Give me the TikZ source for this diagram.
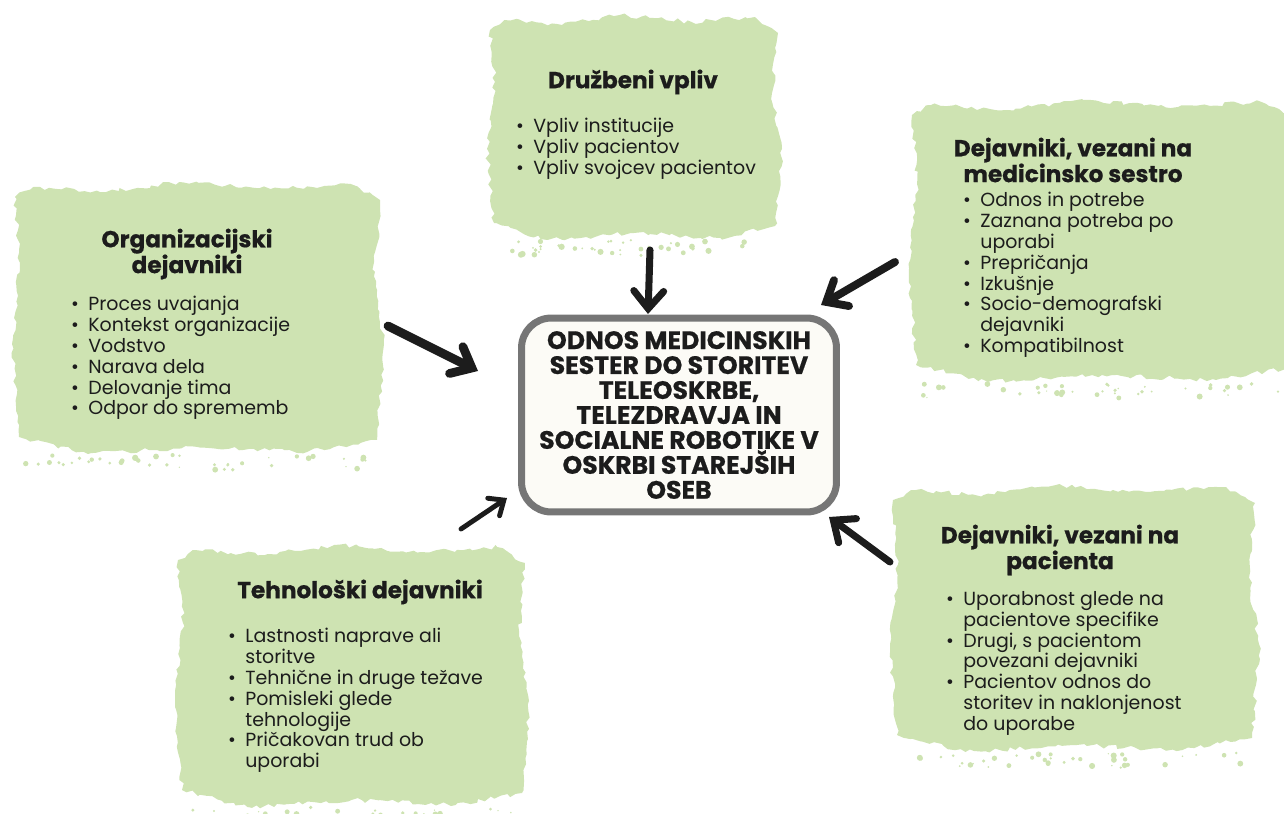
\documentclass[tikz,border=0pt]{standalone}
\usepackage{fontspec}
\setmainfont{Poppins}
\newfontfamily\heavyfont{Poppins}[BoldFeatures={FakeBold=0.6}]
\usetikzlibrary{arrows.meta,decorations.pathmorphing}
\definecolor{blobgreen}{RGB}{206,227,178}
\definecolor{boxgray}{RGB}{118,118,118}
\definecolor{boxfill}{RGB}{252,251,246}
\definecolor{ink}{RGB}{28,28,28}
\newcommand\bl{\llap{\textbullet\hspace{0.5em}}}
\newcommand\greenblob[4]{%
  \path[blobfill] ({#1},{#2+15}) -- ({#1+0.05*(#3-#1)},{#2+5}) -- ({#1+0.25*(#3-#1)},{#2+10}) -- ({#1+0.45*(#3-#1)},{#2}) -- ({#1+0.7*(#3-#1)},{#2+7}) -- ({#1+0.92*(#3-#1)},{#2+2}) -- ({#3},{#2+18}) -- ({#3-6},{#2+0.35*(#4-#2)}) -- ({#3+4},{#2+0.6*(#4-#2)}) -- ({#3-3},{#4-12}) -- ({#1+0.8*(#3-#1)},{#4}) -- ({#1+0.5*(#3-#1)},{#4-5}) -- ({#1+0.2*(#3-#1)},{#4+2}) -- ({#1+4},{#4-15}) -- ({#1-3},{#2+0.6*(#4-#2)}) -- ({#1+5},{#2+0.3*(#4-#2)}) -- cycle;
  \foreach \k in {1,...,40}{%
    \pgfmathsetmacro\px{#1+10+(#3-#1-20)*rnd}%
    \pgfmathsetmacro\py{#4+2+16*rnd}%
    \pgfmathsetmacro\pr{0.4+1.4*rnd}%
    \fill[blobgreen] (\px,\py) circle[radius=\pr pt];
  }%
}
\tikzset{
  blobfill/.style={fill=blobgreen, draw=none, decorate, decoration={random steps, segment length=3pt, amplitude=1.3pt}},
  ttl/.style={font=\heavyfont\bfseries\fontsize{13.2}{14.7}\selectfont, align=center, text=ink, inner sep=0},
  lst/.style={font=\fontsize{10.8}{11.85}\selectfont, align=left, text=ink, inner sep=0, anchor=north west},
  centerbox/.style={draw=boxgray, line width=4pt, fill=boxfill, rounded corners=17pt, minimum width=6.3cm, minimum height=3.88cm, align=center, text=ink, font=\heavyfont\bfseries\fontsize{14.3}{14.2}\selectfont, inner sep=0},
  arr/.style={draw=ink, line cap=round, -{Straight Barb[length=10pt, width=17pt, line cap=round]}},
}
\begin{document}
\begin{tikzpicture}[x=0.02cm, y=-0.02cm]
\useasboundingbox (0,0) rectangle (1284,814);
\pgfmathsetseed{7}
% blobs
\greenblob{490}{15}{778}{238}
\greenblob{912}{100}{1292}{380}
\greenblob{15}{182}{380}{452}
\greenblob{178}{545}{525}{805}
\greenblob{893}{485}{1255}{750}
% titles and lists
\node[ttl] (t1) at (633,82) {Družbeni vpliv};
\node[lst] (l1) at (533,118) {\bl Vpliv institucije\\ \bl Vpliv pacientov\\ \bl Vpliv svojcev pacientov};
\node[ttl] (t2) at (1073,160) {Dejavniki, vezani na\\ medicinsko sestro};
\node[lst] (l2) at (980,192) {\bl Odnos in potrebe\\ \bl Zaznana potreba po\\ uporabi\\ \bl Prepričanja\\ \bl Izkušnje\\ \bl Socio-demografski\\ dejavniki\\ \bl Kompatibilnost};
\node[ttl] (t3) at (187,254) {Organizacijski\\ dejavniki};
\node[lst] (l3) at (88,296) {\bl Proces uvajanja\\ \bl Kontekst organizacije\\ \bl Vodstvo\\ \bl Narava dela\\ \bl Delovanje tima\\ \bl Odpor do sprememb};
\node[ttl] (t4) at (360,592) {Tehnološki dejavniki};
\node[lst] (l4) at (245,628) {\bl Lastnosti naprave ali\\ storitve\\ \bl Tehnične in druge težave\\ \bl Pomisleki glede\\ tehnologije\\ \bl Pričakovan trud ob\\ uporabi};
\node[ttl] (t5) at (1060,550) {Dejavniki, vezani na\\ pacienta};
\node[lst] (l5) at (963,591) {\bl Uporabnost glede na\\ pacientove specifike\\ \bl Drugi, s pacientom\\ povezani dejavniki\\ \bl Pacientov odnos do\\ storitev in naklonjenost\\ do uporabe};
% center
\node[centerbox] (c) at (679,415) {ODNOS MEDICINSKIH\\ SESTER DO STORITEV\\ TELEOSKRBE,\\ TELEZDRAVJA IN\\ SOCIALNE ROBOTIKE V\\ OSKRBI STAREJŠIH\\ OSEB};
% arrows
\coordinate (a1s) at (650,250); \coordinate (a1e) at (648,314);
\coordinate (a2s) at (388,326); \coordinate (a2e) at (478,371);
\coordinate (a3s) at (895,262); \coordinate (a3e) at (821,305);
\coordinate (a4s) at (461,529); \coordinate (a4e) at (507,498);
\coordinate (a5s) at (890,562); \coordinate (a5e) at (829,517);
\draw[arr, line width=4pt] (a1s) -- (a1e);
\draw[arr, line width=5pt] (a2s) -- (a2e);
\draw[arr, line width=4.5pt] (a3s) -- (a3e);
\draw[arr, line width=2.8pt, -{Straight Barb[length=7pt, width=12pt, line cap=round]}] (a4s) -- (a4e);
\draw[arr, line width=4pt] (a5s) -- (a5e);
\end{tikzpicture}
\end{document}
